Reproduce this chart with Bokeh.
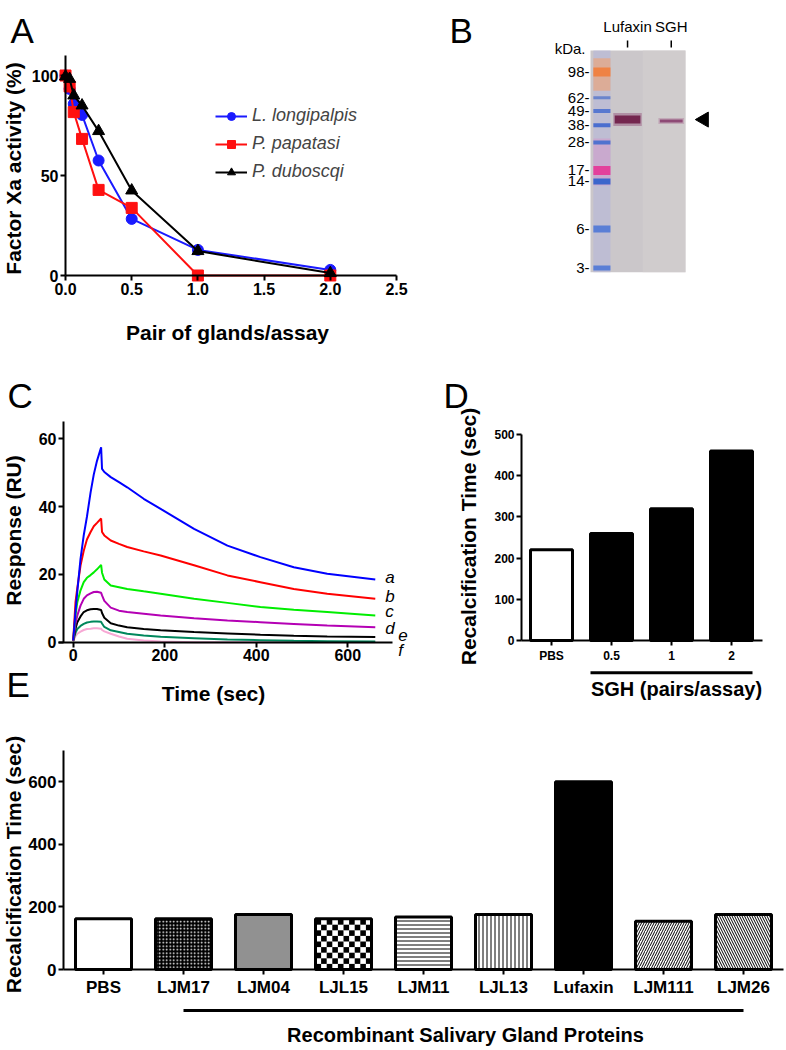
import math
from bokeh.plotting import figure
from bokeh.models import (Range1d, FixedTicker, NumeralTickFormatter, Legend, LegendItem,
                          ColumnDataSource, CanvasTexture)
from bokeh.layouts import column, row
from bokeh.embed import file_html
from bokeh.resources import INLINE
from bokeh.core.properties import value

FONT = "Liberation Sans"

# ---------------- Panel A data ----------------
gland_pairs = [0, 0.03125, 0.0625, 0.125, 0.25, 0.5, 1.0, 2.0]
xa_longipalpis = [100, 93.3, 85.8, 80.3, 57.5, 28.3, 12.8, 2.8]
xa_papatasi = [100, 94.5, 81.7, 68.3, 42.8, 33.8, 0.0, 0.0]
xa_duboscqi = [99.5, 98.3, 90.0, 85.0, 72.2, 42.5, 12.2, 1.2]
species_names = ["L. longipalpis", "P. papatasi", "P. duboscqi"]
a_xticks = [0, 0.5, 1.0, 1.5, 2.0, 2.5]
a_yticks = [0, 50, 100]

# ---------------- Panel B data ----------------
ladder_kda = [98, 62, 49, 38, 28, 17, 14, 6, 3]
ladder_labels = ["98-", "62-", "49-", "38-", "28-", "17-", "14-", "6-", "3-"]
lane_names = ["Lufaxin", "SGH"]
lane_band_kda = [42, 41]

# ---------------- Panel C data ----------------
sensor_time = [0, 5, 9, 16, 23, 30, 38, 45, 52, 61, 63, 68, 82, 100, 118, 154, 191, 264, 337, 409, 482, 555, 660]
ru_a = [0.5, 9, 15, 24.6, 31.5, 37, 44.2, 49.5, 53.5, 57.5, 51.1, 50.2, 48.7, 47.2, 45.7, 42.3, 39.3, 33.4, 28.5, 25.1, 22.1, 20.2, 18.5]
ru_b = [0.5, 11.8, 16, 22.6, 27, 30.3, 32.5, 34.2, 35.2, 36.5, 32.5, 31.5, 30.0, 29.0, 28.1, 26.8, 25.6, 22.7, 19.7, 17.7, 15.7, 14.3, 12.8]
ru_c = [0.5, 8, 11.8, 15.3, 17.7, 19, 19.8, 20.6, 21.5, 22.8, 20.5, 18.5, 16.7, 16.2, 15.7, 15.0, 14.3, 12.8, 11.6, 10.4, 9.6, 8.9, 7.9]
ru_d = [0.5, 5.5, 7.9, 10.8, 12.8, 13.8, 14.4, 14.8, 14.9, 14.6, 13.8, 12.2, 10.2, 9.3, 8.9, 8.4, 7.9, 7.1, 6.4, 5.9, 5.4, 4.9, 4.4]
ru_e = [0.5, 4, 5.9, 7.6, 8.9, 9.4, 9.7, 9.8, 9.8, 9.5, 8.6, 7.2, 5.6, 4.9, 4.4, 3.9, 3.5, 3.0, 2.6, 2.2, 1.9, 1.7, 1.5]
ru_f = [0.3, 2.8, 3.9, 4.8, 5.4, 5.8, 6.0, 6.1, 6.1, 6.0, 5.5, 4.5, 3.5, 3.0, 2.5, 2.0, 1.6, 1.2, 0.8, 0.6, 0.4, 0.3, 0.2]
ru_g = [0.2, 1.8, 2.5, 3.1, 3.6, 3.9, 4.0, 4.1, 4.1, 4.0, 3.6, 3.2, 2.5, 1.7, 1.0, 0.5, 0.2, 0, 0, 0, 0, 0, 0]
curve_letters = ["a", "b", "c", "d", "e", "f"]
c_xticks = [0, 200, 400, 600]
c_yticks = [0, 20, 40, 60]

# ---------------- Panel D data ----------------
sgh_doses = ["PBS", "0.5", "1", "2"]
sgh_time = [220, 260, 320, 460]
d_yticks = [0, 100, 200, 300, 400, 500]

# ---------------- Panel E data ----------------
proteins = ["PBS", "LJM17", "LJM04", "LJL15", "LJM11", "LJL13", "Lufaxin", "LJM111", "LJM26"]
protein_time = [162, 162, 176, 162, 168, 176, 600, 154, 176]
e_yticks = [0, 200, 400, 600]

# ---------------- geometry: canvas box, pixel of value 0 and px per unit ----------------
GA = dict(X0=0, X1=420, Y0=0, Y1=346, ax=65, bx=132.4, ay=275, by=2.0)
GB = dict(X0=420, X1=784, Y0=0, Y1=346, ax=590, bx=95, ay=329.3, by=129.5, log=True)
GC = dict(X0=0, X1=420, Y0=346, Y1=706, ax=72.7, bx=0.4577, ay=641.7, by=3.39)
GD = dict(X0=420, X1=784, Y0=346, Y1=706, ax=521, bx=60, ay=640, by=0.412)
GE = dict(X0=0, X1=784, Y0=706, Y1=1048, ax=63, bx=80, ay=969, by=0.3128)


def px2x(P, px):
    return (px - P["ax"]) / P["bx"]


def py2y(P, py):
    v = (P["ay"] - py) / P["by"]
    return 10 ** v if P.get("log") else v


def make_fig(P, **kw):
    p = figure(width=P["X1"] - P["X0"], height=P["Y1"] - P["Y0"],
               x_range=Range1d(px2x(P, P["X0"]), px2x(P, P["X1"])),
               y_range=Range1d(py2y(P, P["Y1"]), py2y(P, P["Y0"])),
               min_border_left=0, min_border_right=0, min_border_top=0, min_border_bottom=0,
               output_backend="svg", toolbar_location=None, **kw)
    p.title.visible = False
    p.grid.visible = False
    p.outline_line_color = None
    p.background_fill_color = "white"
    p.border_fill_color = "white"
    return p


def style_axes(p, tick_px):
    for ax in p.axis:
        ax.axis_line_width = 2
        ax.axis_line_color = "black"
        ax.major_tick_line_width = 2
        ax.major_tick_line_color = "black"
        ax.major_tick_out = 5
        ax.major_tick_in = 0
        ax.minor_tick_line_color = None
        ax.major_label_text_font = FONT
        ax.major_label_text_font_style = "bold"
        ax.major_label_text_color = "black"
        ax.major_label_text_font_size = f"{tick_px}px"
        ax.major_label_standoff = 2


def txt(p, P, s, px, py, size, style="bold", align="center", baseline="middle", angle=0.0):
    p.text(x=[px2x(P, px)], y=[py2y(P, py)], text=[s], angle=angle,
           text_align=align, text_baseline=baseline, text_font=value(FONT),
           text_font_size=f"{size}px", text_font_style=style, text_color="black")


# ================= Panel A =================
pA = make_fig(GA)
style_axes(pA, 16)
pA.xaxis.fixed_location = 0
pA.yaxis.fixed_location = 0
pA.xaxis.bounds = (0, 2.5)
pA.yaxis.bounds = (0, 110)
pA.xaxis.ticker = FixedTicker(ticks=a_xticks)
pA.xaxis.formatter = NumeralTickFormatter(format="0.0")
pA.yaxis.ticker = FixedTicker(ticks=a_yticks)
items = []
for name, vals, col, mk, sz in [(species_names[0], xa_longipalpis, "#1a1aff", "circle", 11),
                                (species_names[1], xa_papatasi, "#ff1010", "square", 11),
                                (species_names[2], xa_duboscqi, "black", "triangle", 12)]:
    ln = pA.line(gland_pairs, vals, line_color=col, line_width=2)
    sc = pA.scatter(gland_pairs, vals, marker=mk, size=sz, fill_color=col, line_color=col)
    items.append(LegendItem(label=name, renderers=[ln, sc]))
pA.add_layout(Legend(items=items, location=(215, 164), padding=0, margin=0, spacing=7,
                     label_height=20, glyph_height=20, glyph_width=32, label_standoff=5,
                     border_line_color=None, background_fill_alpha=0,
                     label_text_font=FONT, label_text_font_style="italic", label_text_font_size="18px"))
txt(pA, GA, "Pair of glands/assay", 227, 332, 21)
txt(pA, GA, "Factor Xa activity (%)", 13, 168, 21, angle=math.pi / 2)
txt(pA, GA, "A", 10, 30, 35, style="normal", align="left", baseline="alphabetic")

# ================= Panel B (gel) =================
pB = make_fig(GB, y_axis_type="log", x_axis_location=None, y_axis_location=None)
gel_top, gel_bottom = py2y(GB, 50), py2y(GB, 271.7)
LADDER_X, LADDER_W = 0.12, 0.18
LANE_X, LANE_W = [0.39, 0.85], [0.30, 0.27]
pB.quad(left=[0], right=[1], bottom=[gel_bottom], top=[gel_top], fill_color="#cbc7ca", line_color=None)
pB.quad(left=[0.55], right=[1], bottom=[gel_bottom], top=[gel_top], fill_color="#d3cfcf",
        line_color=None, fill_alpha=0.6)
pB.quad(left=[LADDER_X - LADDER_W / 2], right=[LADDER_X + LADDER_W / 2], bottom=[gel_bottom], top=[gel_top],
        fill_color="#b4b4da", line_color=None, fill_alpha=0.55)
pB.quad(left=[LADDER_X - LADDER_W / 2], right=[LADDER_X + LADDER_W / 2], bottom=[70], top=[125],
        fill_color="#f0a070", line_color=None, fill_alpha=0.6)
pB.quad(left=[LADDER_X - LADDER_W / 2], right=[LADDER_X + LADDER_W / 2], bottom=[13], top=[30],
        fill_color="#d890c8", line_color=None, fill_alpha=0.45)
ladder_colors = ["#ef8244", "#6a84cc", "#5878d0", "#4a6ecf", "#5072cf", "#e3409c", "#3c66cc", "#5a7ed6", "#5a7ed6"]
ladder_h = [9, 3, 4, 4, 4, 9, 6, 7, 5]
pB.rect(x=[LADDER_X] * len(ladder_kda), y=ladder_kda, width=LADDER_W, height=ladder_h, height_units="screen",
        fill_color=ladder_colors, line_color=None)
pB.rect(x=LANE_X, y=lane_band_kda, width=LANE_W, height=[13, 6], height_units="screen",
        fill_color=["#a06a8c", "#b890a8"], line_color=None, fill_alpha=0.6)
pB.rect(x=LANE_X, y=lane_band_kda, width=[w - 0.03 for w in LANE_W], height=[8, 3], height_units="screen",
        fill_color=["#74264f", "#8e4a76"], line_color=None)
pB.scatter(x=[px2x(GB, 703.5)], y=[lane_band_kda[0]], marker="triangle", angle=math.pi / 2, size=15,
           fill_color="black", line_color="black")
pB.text(x=[0] * len(ladder_kda), y=ladder_kda, text=ladder_labels, x_offset=-1, text_align="right",
        text_baseline="middle", text_font=value(FONT), text_font_size="15px", text_color="black")
pB.text(x=[0], y=[py2y(GB, 47.5)], text=["kDa."], x_offset=-5, text_align="right",
        text_baseline="middle", text_font=value(FONT), text_font_size="15px", text_color="black")
pB.text(x=LANE_X, y=[py2y(GB, 26)] * 2, text=lane_names, text_align="center",
        text_baseline="middle", text_font=value(FONT), text_font_size="15px", text_color="black")
pB.segment(x0=LANE_X, x1=LANE_X, y0=[py2y(GB, 40)] * 2, y1=[py2y(GB, 47)] * 2,
           line_color="black", line_width=1.5)
txt(pB, GB, "B", 449, 30, 35, style="normal", align="left", baseline="alphabetic")

# ================= Panel C =================
pC = make_fig(GC)
style_axes(pC, 16)
pC.xaxis.fixed_location = 0
pC.yaxis.fixed_location = px2x(GC, 63)
pC.xaxis.bounds = (px2x(GC, 58), px2x(GC, 392))
pC.yaxis.bounds = (0, 65)
pC.xaxis.ticker = FixedTicker(ticks=c_xticks)
pC.yaxis.ticker = FixedTicker(ticks=c_yticks)
curves = [ru_a, ru_b, ru_c, ru_d, ru_e, ru_f, ru_g]
curve_colors = ["#0000ff", "#ff0000", "#00ee00", "#b400b4", "black", "#00875c", "#f7a8d4"]
for vals, col in reversed(list(zip(curves, curve_colors))):
    pC.line(sensor_time, vals, line_color=col, line_width=2)
up_px = [2, 2, 4, -1.5, 2, -9]
lab_src = ColumnDataSource(dict(x=[sensor_time[-1]] * 6,
                                y=[c[-1] + u / GC["by"] for c, u in zip(curves[:6], up_px)],
                                text=curve_letters, xo=[10, 10, 10, 10, 23, 23]))
pC.text(x="x", y="y", text="text", x_offset="xo", source=lab_src, text_font=value(FONT),
        text_font_style="italic", text_font_size="17px", text_baseline="middle", text_color="black")
txt(pC, GC, "Time (sec)", 213, 693, 21)
txt(pC, GC, "Response (RU)", 13, 530, 21, angle=math.pi / 2)
txt(pC, GC, "C", 7, 395, 35, style="normal", align="left", baseline="alphabetic")
txt(pC, GC, "E", 6, 684, 35, style="normal", align="left", baseline="alphabetic")

# ================= Panel D =================
pD = make_fig(GD)
style_axes(pD, 12)
d_x = [i + 0.5 for i in range(len(sgh_doses))]
pD.xaxis.fixed_location = 0
pD.yaxis.fixed_location = 0
pD.xaxis.bounds = (0, len(sgh_doses) + 0.02)
pD.yaxis.bounds = (0, 500)
pD.xaxis.ticker = FixedTicker(ticks=d_x)
pD.xaxis.major_label_overrides = {x: s for x, s in zip(d_x, sgh_doses)}
pD.xaxis.major_label_standoff = 3
pD.yaxis.ticker = FixedTicker(ticks=d_yticks)
pD.vbar(x=d_x, top=sgh_time, width=0.7, fill_color=["white", "black", "black", "black"],
        line_color="black", line_width=3)
pD.segment(x0=[d_x[1] - 0.35], x1=[d_x[-1] + 0.35], y0=[py2y(GD, 672.3)], y1=[py2y(GD, 672.3)],
           line_color="black", line_width=3)
txt(pD, GD, "SGH (pairs/assay)", 676, 688, 20)
txt(pD, GD, "Recalcification Time (sec)", 468, 536, 21, angle=math.pi / 2)
txt(pD, GD, "D", 443, 395, 35, style="normal", align="left", baseline="alphabetic")

# ================= Panel E =================
pE = make_fig(GE)
style_axes(pE, 17)
e_x = [i + 0.5 for i in range(len(proteins))]
pE.xaxis.fixed_location = 0
pE.yaxis.fixed_location = 0
pE.xaxis.bounds = (0, len(proteins))
pE.yaxis.bounds = (0, 700)
pE.xaxis.ticker = FixedTicker(ticks=e_x)
pE.xaxis.major_label_overrides = {x: s for x, s in zip(e_x, proteins)}
pE.xaxis.major_label_standoff = 3
pE.yaxis.ticker = FixedTicker(ticks=e_yticks)
checker = CanvasTexture(code="ctx.fillStyle = color; var h = scale / 2; ctx.fillRect(0, 0, h, h); ctx.fillRect(h, h, h, h);")
e_src = ColumnDataSource(dict(
    x=e_x, top=protein_time,
    fill=["white", "black", "white", "white", "white", "white", "black", "white", "white"],
    hatch=["blank", "dot", "checker", "blank", "horizontal_line", "vertical_line", "blank",
           "right_diagonal_line", "left_diagonal_line"],
    hcolor=["black", "white", "black", "black", "black", "black", "black", "black", "black"],
    hscale=[4, 3.5, 3.4, 4, 4, 4, 4, 5, 5]))
pE.vbar(x="x", top="top", width=0.7, source=e_src, fill_color="fill", line_color=None,
        hatch_pattern="hatch", hatch_color="hcolor", hatch_scale="hscale", hatch_weight=1,
        hatch_extra={"checker": checker})
# coarse checkerboard fill of the LJL15 bar
k = proteins.index("LJL15")
cw, ch = 5.6 / GE["bx"], 5.6 / GE["by"]
b_left, b_right, b_top = e_x[k] - 0.35, e_x[k] + 0.35, protein_time[k]
cl, cr, cb, ct = [], [], [], []
i = 0
while b_left + i * cw < b_right:
    j = 0
    while j * ch < b_top:
        if (i + j) % 2 == 0:
            cl.append(b_left + i * cw)
            cr.append(min(b_left + (i + 1) * cw, b_right))
            cb.append(j * ch)
            ct.append(min((j + 1) * ch, b_top))
        j += 1
    i += 1
pE.quad(left=cl, right=cr, bottom=cb, top=ct, fill_color="black", line_color=None)
pE.vbar(x=e_x, top=protein_time, width=0.7, fill_color=None, line_color="black", line_width=3)
pE.segment(x0=[e_x[1]], x1=[e_x[-1]], y0=[py2y(GE, 1010)], y1=[py2y(GE, 1010)],
           line_color="black", line_width=3)
txt(pE, GE, "Recombinant Salivary Gland Proteins", 465, 1034, 20)
txt(pE, GE, "Recalcification Time (sec)", 13, 864, 21, angle=math.pi / 2)

layout = column(row(pA, pB), row(pC, pD), pE)
open("out.html", "w").write(file_html(layout, INLINE))
